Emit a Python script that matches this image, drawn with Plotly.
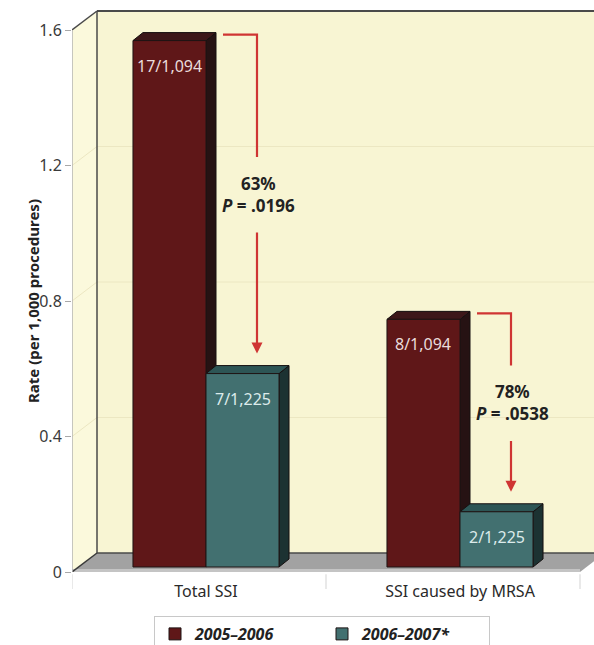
import plotly.graph_objects as go

# ---------------- data ----------------
categories = ["Total SSI", "SSI caused by MRSA"]
series_names = ["2005–2006", "2006–2007*"]
rates_2005 = [1.554, 0.731]
rates_2006 = [0.571, 0.163]
labels_2005 = ["17/1,094", "8/1,094"]
labels_2006 = ["7/1,225", "2/1,225"]
reductions = ["63%", "78%"]
p_values = [".0196", ".0538"]
tick_vals = [0, 0.4, 0.8, 1.2, 1.6]
tick_text = ["0", "0.4", "0.8", "1.2", "1.6"]
y_title = "Rate (per 1,000 procedures)"

# ---------------- layout geometry ----------------
W, H = 594, 645
ML, MR, MT, MB = 72, 0, 6, 73
PW, PH = W - ML - MR, H - MT - MB
Y_PX = 542 / 1.6          # pixels per rate unit
X_PX = 254.0              # pixels per category
YTOP = PH / Y_PX

def dxu(px):
    return px / X_PX

def dyu(px):
    return px / Y_PX

SX, SY = dxu(7), dyu(5)          # bars sit slightly back on the floor
WDX, WDY = dxu(25), dyu(19)      # depth of the walls
BDX, BDY = dxu(10), dyu(8)       # depth of each bar
BW = 0.2875                      # bar width in category units
XMIN = -0.5 - SX
XMAX = XMIN + PW / X_PX
L, R = -0.5 - SX, len(categories) - 0.5 - SX

FONT = "Noto Sans"
MAROON = dict(front="#5f1718", top="#3d1719", side="#261213", text="#eadcdc")
TEAL = dict(front="#427070", top="#2d5555", side="#1c3232", text="#dcebeb")
RED = "#cf3533"

fig = go.Figure()
for name, vals, col, og in [(series_names[0], rates_2005, MAROON, "a"),
                            (series_names[1], rates_2006, TEAL, "b")]:
    fig.add_trace(go.Bar(
        x=categories, y=vals, name=name, yaxis="y2", offsetgroup=og,
        marker=dict(color=col["front"], line=dict(color="#1e1414", width=1)),
        hoverinfo="skip"))

shapes = []
# back wall
shapes.append(dict(type="rect", xref="x", yref="y", x0=L + WDX, x1=XMAX + 1, y0=WDY, y1=1.6 + WDY,
                   fillcolor="#f8f5d3", line=dict(width=0), layer="below"))
# left wall
shapes.append(dict(type="path", xref="x", yref="y",
                   path=f"M{L},0 L{L},1.6 L{L+WDX},{1.6+WDY} L{L+WDX},{WDY} Z",
                   fillcolor="#fbf9dc", line=dict(width=0), layer="below"))
# gridlines on walls
for v in tick_vals[1:-1]:
    shapes.append(dict(type="path", xref="x", yref="y",
                       path=f"M{L},{v} L{L+WDX},{v+WDY} L{XMAX+1},{v+WDY}",
                       line=dict(color="#ece7c2", width=1), layer="below"))
# floor
shapes.append(dict(type="path", xref="x", yref="y",
                   path=f"M{L},0 L{R},0 L{R+WDX},{WDY} L{L+WDX},{WDY} Z",
                   fillcolor="#a2a2a2", line=dict(width=0), layer="below"))
shapes.append(dict(type="line", xref="x", yref="y", x0=L, x1=R, y0=dyu(1.5), y1=dyu(1.5),
                   line=dict(color="#c4c4c4", width=3), layer="below"))
# wall edges
shapes.append(dict(type="line", xref="x", yref="y", x0=L + WDX, x1=XMAX + 1, y0=1.6 + WDY, y1=1.6 + WDY,
                   line=dict(color="#4a4a4a", width=2), layer="below"))
shapes.append(dict(type="line", xref="x", yref="y", x0=L + WDX, x1=L + WDX, y0=WDY, y1=1.6 + WDY,
                   line=dict(color="#4a4a4a", width=1.5), layer="below"))
shapes.append(dict(type="line", xref="x", yref="y", x0=L, x1=L + WDX, y0=1.6, y1=1.6 + WDY,
                   line=dict(color="#4a4a4a", width=1.5), layer="below"))
shapes.append(dict(type="line", xref="x", yref="y", x0=L + WDX, x1=R + WDX, y0=WDY, y1=WDY,
                   line=dict(color="#4a4a4a", width=1.5), layer="below"))
shapes.append(dict(type="line", xref="x", yref="y", x0=L, x1=L + WDX, y0=0, y1=WDY,
                   line=dict(color="#3a3a3a", width=1.5), layer="below"))
shapes.append(dict(type="line", xref="x", yref="y", x0=L, x1=L, y0=0, y1=1.6,
                   line=dict(color="#b5b5b5", width=1.5), layer="below"))
# category boundary ticks under the floor
for b in range(len(categories) + 1):
    shapes.append(dict(type="line", xref="x", yref="paper", x0=b - 0.5 - SX, x1=b - 0.5 - SX,
                       y0=-0.004, y1=-0.03, line=dict(color="#e2e2e2", width=1.5)))

# 3D faces of bars
def bar_faces(x0, x1, v, col):
    out = []
    out.append(dict(type="path", xref="x", yref="y2",
                    path=f"M{x1},0 L{x1},{v} L{x1+BDX},{v+BDY} L{x1+BDX},{BDY} Z",
                    fillcolor=col["side"], line=dict(color="#161010", width=1), layer="below"))
    out.append(dict(type="path", xref="x", yref="y2",
                    path=f"M{x0},{v} L{x0+BDX},{v+BDY} L{x1+BDX},{v+BDY} L{x1},{v} Z",
                    fillcolor=col["top"], line=dict(color="#161010", width=1), layer="below"))
    return out

for i in range(len(categories)):
    shapes += bar_faces(i - BW, i, rates_2005[i], MAROON)
    shapes += bar_faces(i, i + BW, rates_2006[i], TEAL)

annotations = []
for i in range(len(categories)):
    annotations.append(dict(x=i - BW / 2, y=rates_2005[i], xref="x", yref="y2", yanchor="top",
                            yshift=-12, text=labels_2005[i], showarrow=False,
                            font=dict(family=FONT, size=16, color=MAROON["text"])))
    annotations.append(dict(x=i + BW / 2, y=rates_2006[i], xref="x", yref="y2", yanchor="top",
                            yshift=-12, text=labels_2006[i], showarrow=False,
                            font=dict(family=FONT, size=16, color=TEAL["text"])))
    yb = rates_2005[i] + dyu(6)
    xr = i + dxu(51)
    xs = i + BDX + dxu(7)
    ytip = rates_2006[i] + dyu(20)
    ymid = (yb + ytip) / 2
    gap = dyu(37)
    shapes.append(dict(type="path", xref="x", yref="y2",
                       path=f"M{xs},{yb} L{xr},{yb} L{xr},{ymid+gap}",
                       line=dict(color=RED, width=2.2), layer="above"))
    annotations.append(dict(x=xr, y=ytip, ax=xr, ay=ymid - gap, xref="x", yref="y2",
                            axref="x", ayref="y2", text="", showarrow=True,
                            arrowhead=2, arrowsize=1.0, arrowwidth=2.2, arrowcolor=RED))
    annotations.append(dict(x=xr + dxu(1), y=ymid, xref="x", yref="y2", showarrow=False,
                            text=f"<b>{reductions[i]}<br><i>P</i> = {p_values[i]}</b>",
                            font=dict(family=FONT, size=17, color="#222222")))

# y-axis title
annotations.append(dict(x=(21 - ML) / PW, y=(572 - 301) / PH, xref="paper", yref="paper",
                        text=f"<b>{y_title}</b>", textangle=-90, showarrow=False,
                        font=dict(family=FONT, size=15, color="#222222")))

fig.update_layout(
    width=W, height=H,
    margin=dict(l=ML, r=MR, t=MT, b=MB, autoexpand=False),
    paper_bgcolor="white", plot_bgcolor="white",
    barmode="group", bargap=1 - 2 * BW, bargroupgap=0,
    font=dict(family=FONT, color="#333333"),
    xaxis=dict(type="category", range=[XMIN, XMAX], showgrid=False, zeroline=False,
               showline=False, ticks="", tickfont=dict(size=16, color="#2a2a2a"),
               ticklabelstandoff=8, fixedrange=True, automargin=False),
    yaxis=dict(range=[0, YTOP], tickvals=tick_vals, ticktext=tick_text, showgrid=False,
               zeroline=False, showline=False, ticks="outside", ticklen=6, tickcolor="#a8a8a8",
               tickwidth=1, tickfont=dict(size=16, color="#3a3a3a"), automargin=False),
    yaxis2=dict(range=[-SY, YTOP - SY], overlaying="y", visible=False),
    showlegend=True,
    legend=dict(orientation="h", x=(322 - ML) / PW, xanchor="center",
                y=(572 - 616) / PH, yanchor="top", bgcolor="white",
                bordercolor="#c8c8c8", borderwidth=1,
                font=dict(size=16, color="#222222", weight="bold", style="italic"),
                traceorder="normal", entrywidth=122),
    shapes=shapes, annotations=annotations,
)

fig.write_html("out.html")
